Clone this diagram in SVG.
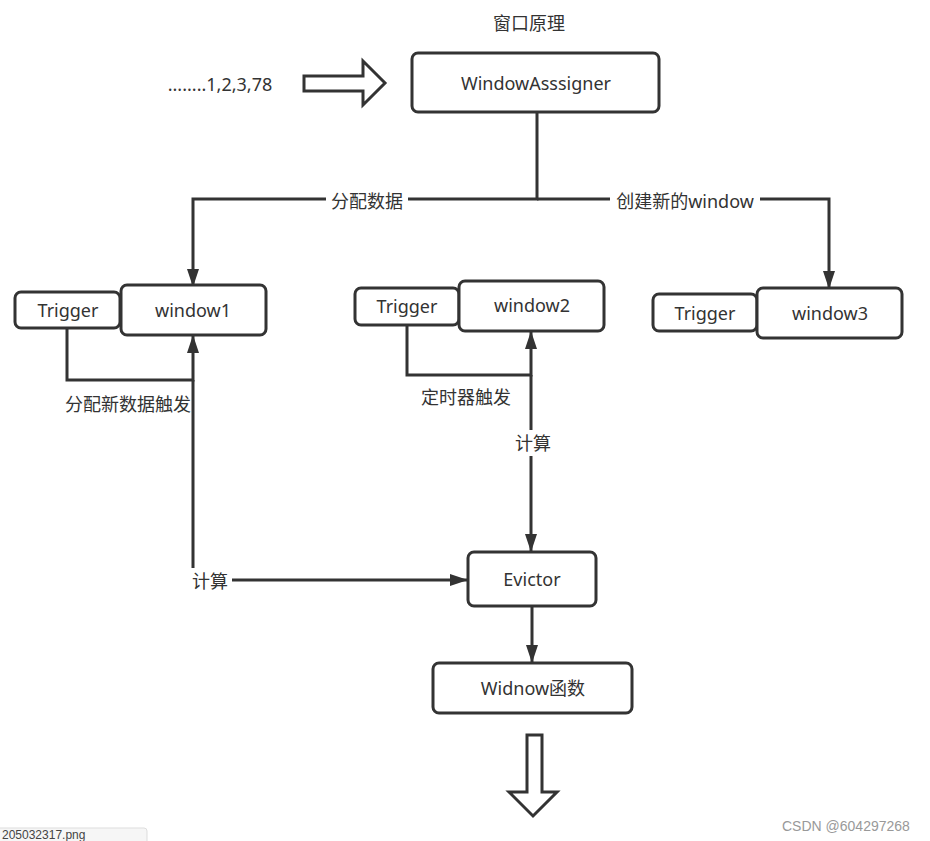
<svg xmlns="http://www.w3.org/2000/svg" width="930" height="841" viewBox="0 0 930 841">
<style>
text{font-family:"Noto Sans","Liberation Sans","Noto Sans CJK SC",sans-serif;fill:#333;font-size:18px;text-anchor:middle}
.box{fill:#fff;stroke:#333;stroke-width:3}
.ln{fill:none;stroke:#333;stroke-width:3}
.lbl{fill:#fff;stroke:none}
.blk{fill:#fff;stroke:#333;stroke-width:3}
.wm{text-anchor:start;fill:#999;font-family:"Liberation Sans",sans-serif;font-size:14px}
.tab{text-anchor:start;fill:#444;font-family:"Liberation Sans",sans-serif;font-size:12px}
</style>
<defs>
<marker id="ah" markerUnits="userSpaceOnUse" viewBox="0 0 18 12" refX="17" refY="6" markerWidth="18" markerHeight="12" orient="auto">
<path d="M0,0 L18,6 L0,12 z" fill="#333"/>
</marker>
</defs>
<rect width="930" height="841" fill="#fff"/>
<text x="529" y="30">窗口原理</text>
<text x="220" y="91">........1,2,3,78</text>
<polygon class="blk" points="304,76 363,76 363,61 385,83 363,105 363,91 304,91"/>

<g id="connectors">
<path class="ln" d="M537,112 V199 H193 V286" marker-end="url(#ah)"/>
<path class="ln" d="M537,199 H829 V288" marker-end="url(#ah)"/>
<rect class="lbl" x="326" y="189" width="82" height="22"/>
<text x="367" y="208">分配数据</text>
<rect class="lbl" x="610" y="189" width="150" height="22"/>
<text x="685" y="208">创建新的window</text>
<path class="ln" d="M67,328 V380 H193 V336" marker-end="url(#ah)"/>
<path class="ln" d="M193,380 V580 H467" marker-end="url(#ah)"/>
<rect class="lbl" x="188" y="568" width="44" height="26"/>
<text x="210" y="588">计算</text>
<text x="128" y="411">分配新数据触发</text>
<path class="ln" d="M407,325 V375 H531 V332" marker-end="url(#ah)"/>
<path class="ln" d="M531,375 V551" marker-end="url(#ah)"/>
<rect class="lbl" x="512" y="430" width="40" height="26"/>
<text x="533" y="450">计算</text>
<text x="466" y="404">定时器触发</text>
<path class="ln" d="M532,606 V662" marker-end="url(#ah)"/>
</g>

<g id="assigner">
<rect class="box" x="412" y="53" width="247" height="59" rx="6"/>
<text x="536" y="90">WindowAsssigner</text>
</g>
<g id="trigger1">
<rect class="box" x="15" y="292" width="105" height="36" rx="6"/>
<text x="68" y="317">Trigger</text>
</g>
<g id="window1">
<rect class="box" x="121" y="285" width="145" height="50" rx="6"/>
<text x="193" y="317">window1</text>
</g>
<g id="trigger2">
<rect class="box" x="355" y="288" width="104" height="37" rx="6"/>
<text x="407" y="313">Trigger</text>
</g>
<g id="window2">
<rect class="box" x="459" y="281" width="145" height="50" rx="6"/>
<text x="532" y="312">window2</text>
</g>
<g id="trigger3">
<rect class="box" x="653" y="294" width="104" height="37" rx="6"/>
<text x="705" y="320">Trigger</text>
</g>
<g id="window3">
<rect class="box" x="757" y="288" width="145" height="50" rx="6"/>
<text x="830" y="320">window3</text>
</g>
<g id="evictor">
<rect class="box" x="468" y="552" width="128" height="54" rx="6"/>
<text x="532" y="586">Evictor</text>
</g>
<g id="widnow">
<rect class="box" x="433" y="663" width="199" height="50" rx="6"/>
<text x="533" y="695">Widnow函数</text>
</g>
<polygon class="blk" points="527,735 542,735 542,792 557,792 533,816 509,792 527,792"/>

<text class="wm" x="782" y="831">CSDN @604297268</text>
<rect x="-5" y="828" width="152" height="20" rx="3" fill="#f6f6f6" stroke="#ddd"/>
<text class="tab" x="2" y="839">205032317.png</text>
</svg>
